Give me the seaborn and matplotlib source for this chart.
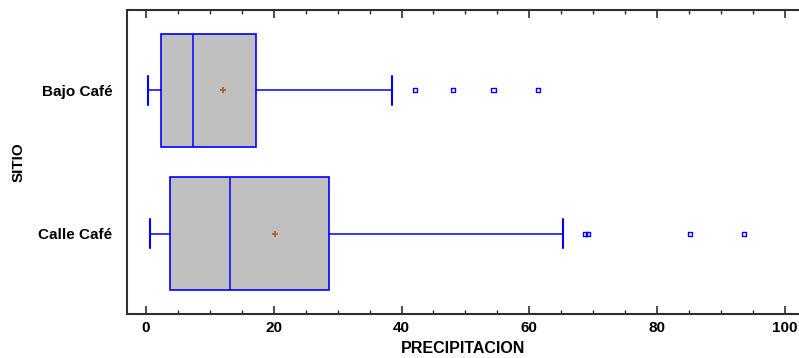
import matplotlib
matplotlib.use("Agg")
import matplotlib.pyplot as plt
from matplotlib.ticker import MultipleLocator
import seaborn as sns
import pandas as pd

# ---- data ----
sitios = ["Bajo Café", "Calle Café"]
whisker_low = [0.35, 0.6]
q1 = [2.35, 3.85]
median = [7.4, 13.1]
q3 = [17.25, 28.6]
whisker_high = [38.5, 65.3]
mean = [12.05, 20.2]
outliers = [[42.1, 48.0, 54.4, 61.4], [68.7, 69.2, 85.1, 93.6]]
x_ticks = [0, 20, 40, 60, 80, 100]

sns.set_theme(style="white")
plt.rcParams["font.family"] = ["Liberation Sans", "DejaVu Sans"]
plt.rcParams["font.weight"] = "bold"
for k in ["text.color", "axes.labelcolor", "xtick.color", "ytick.color"]:
    plt.rcParams[k] = "black"

fig = plt.figure(figsize=(7.99, 3.58), dpi=100)
ax = fig.add_axes([0.1586, 0.1229, 0.8414, 0.8491])

pos = list(range(len(sitios)))
stats = []
for i, s in enumerate(sitios):
    stats.append(dict(label=s, whislo=whisker_low[i], q1=q1[i], med=median[i],
                      q3=q3[i], whishi=whisker_high[i], mean=mean[i], fliers=[]))

blue = "#0000FF"
ax.bxp(stats, positions=pos, vert=False, widths=0.79, patch_artist=True,
       showfliers=False, showmeans=False,
       boxprops=dict(facecolor="#C0C0C0", edgecolor=blue, linewidth=1.2),
       medianprops=dict(color=blue, linewidth=1.1),
       whiskerprops=dict(color=blue, linewidth=1.1),
       capprops=dict(color=blue, linewidth=1.5),
       capwidths=0.2)

# outliers and means drawn with seaborn
out_df = pd.DataFrame([(pos[i], v) for i in range(len(sitios)) for v in outliers[i]],
                      columns=["pos", "value"])
sns.scatterplot(data=out_df, x="value", y="pos", ax=ax, marker="s", s=9,
                facecolor="none", edgecolor=blue, linewidth=1.0, zorder=5)
mean_df = pd.DataFrame({"pos": pos, "value": mean})
sns.scatterplot(data=mean_df, x="value", y="pos", ax=ax, marker="+", s=22,
                color="#B0602A", linewidth=1.3, zorder=6)

ax.set_xlim(-3.0, 102.2)
ax.set_ylim(1.56, -0.56)
ax.set_yticks(pos)
ax.set_yticklabels(sitios, fontsize=11, fontweight="bold")
ax.set_xticks(x_ticks)
ax.set_xticklabels([str(t) for t in x_ticks], fontsize=11, fontweight="bold")
ax.xaxis.set_minor_locator(MultipleLocator(5))
ax.tick_params(axis="x", which="major", direction="in", length=6, width=1.2,
               color="#303030", top=True, bottom=True, pad=5)
ax.tick_params(axis="x", which="minor", direction="in", length=3, width=1.0,
               color="#303030", top=True, bottom=True)
ax.tick_params(axis="y", length=0, pad=10.5)

ax.set_xlabel("PRECIPITACION", fontsize=11.5, fontweight="bold", labelpad=4)
ax.set_ylabel("SITIO", fontsize=11, fontweight="bold", labelpad=9)

for side in ["left", "bottom", "top"]:
    ax.spines[side].set_color("#303030")
    ax.spines[side].set_linewidth(1.5)
    ax.spines[side].set_visible(True)
ax.spines["right"].set_visible(False)

fig.savefig("out.png", dpi=100)
